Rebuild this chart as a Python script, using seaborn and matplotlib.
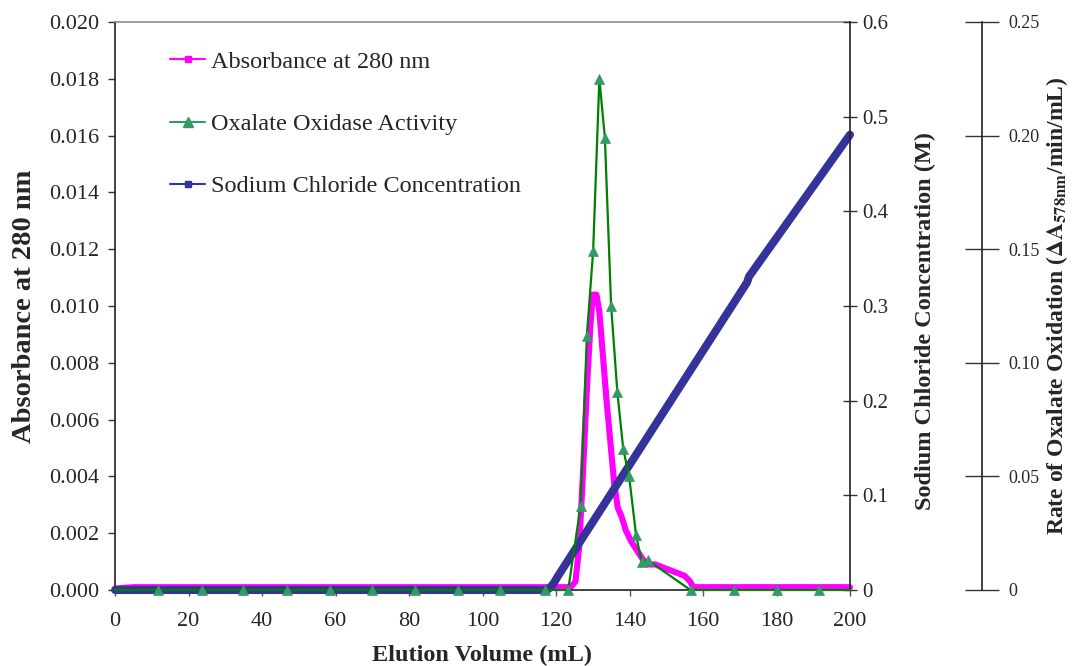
import matplotlib
matplotlib.use("Agg")
import matplotlib.pyplot as plt
from matplotlib.lines import Line2D
from matplotlib.ticker import FixedLocator, FuncFormatter
import seaborn as sns

# Absorbance at 280 nm across the elution
abs_volume = [0, 5, 123.0, 124.0, 125.3, 126.3, 127.3, 128.3, 129.3, 130.0, 131.0,
              131.8, 132.8, 133.8, 134.8, 135.8, 136.8, 137.8, 139.0, 140.5, 142.0,
              143.5, 145.0, 147.0, 149.0, 151.0, 153.0, 155.0, 156.5, 157.3, 200]
abs_280 = [0.00005, 0.0001, 0.0001, 0.0001, 0.0003, 0.0015, 0.0040, 0.0068, 0.0092,
           0.0104, 0.0104, 0.0098, 0.0082, 0.0066, 0.0052, 0.0038, 0.0029, 0.0026,
           0.0021, 0.0017, 0.0014, 0.0011, 0.0009, 0.0009, 0.0008, 0.0007, 0.0006,
           0.0005, 0.0003, 0.0001, 0.0001]

# Oxalate oxidase activity of the collected fractions
activity_volume = [0, 11.8, 23.6, 34.9, 46.7, 58.5, 69.8, 81.6, 93.4, 104.8, 117.0,
                   123.3, 126.7, 128.4, 130.1, 131.8, 133.3, 135.0, 136.7, 138.3,
                   139.9, 141.8, 143.3, 145.1, 156.6, 168.3, 180.0, 191.6, 200]
activity = [0, 0, 0, 0, 0, 0, 0, 0, 0, 0, 0,
            0, 0.037, 0.112, 0.149, 0.225, 0.199, 0.125, 0.087, 0.062,
            0.050, 0.024, 0.0125, 0.013, 0, 0, 0, 0, 0]

# Sodium chloride gradient
nacl_volume = [0, 117.6, 118.5, 119.5, 120.5, 172.0, 172.5, 200]
nacl_conc = [0, 0, 0.003, 0.008, 0.0145, 0.325, 0.331, 0.481]

x_ticks = [0, 20, 40, 60, 80, 100, 120, 140, 160, 180, 200]
abs_ticks = [0.000, 0.002, 0.004, 0.006, 0.008, 0.010, 0.012, 0.014, 0.016, 0.018, 0.020]
nacl_ticks = [0, 0.1, 0.2, 0.3, 0.4, 0.5, 0.6]
rate_ticks = [0, 0.05, 0.10, 0.15, 0.20, 0.25]

series_names = ["Absorbance at 280 nm", "Oxalate Oxidase Activity",
                "Sodium Chloride Concentration"]

MAGENTA = "#ff00ff"
GREEN_LINE = "#008000"
GREEN_MARK = "#339966"
NAVY = "#333399"

sns.set_style("white")
plt.rcParams["font.family"] = ["Liberation Serif", "DejaVu Serif"]
plt.rcParams["mathtext.fontset"] = "stix"

fig = plt.figure(figsize=(10.76, 6.66), dpi=100)
ax = fig.add_axes([115 / 1076, 76 / 666, 735 / 1076, 568 / 666])
ax2 = ax.twinx()
ax3 = ax.twinx()

sns.lineplot(x=abs_volume, y=abs_280, ax=ax, color=MAGENTA, linewidth=4.4,
             estimator=None, sort=False, legend=False, clip_on=False)
sns.lineplot(x=nacl_volume, y=nacl_conc, ax=ax2, color=NAVY, linewidth=5.8,
             estimator=None, sort=False, legend=False, clip_on=False)
sns.lineplot(x=activity_volume, y=activity, ax=ax3, color=GREEN_LINE, linewidth=1.6,
             marker="^", markersize=7, markerfacecolor=GREEN_MARK,
             markeredgecolor=GREEN_MARK, markeredgewidth=0.5,
             markevery=list(range(1, len(activity_volume) - 1)),
             estimator=None, sort=False, legend=False, clip_on=False)

# Primary axis: absorbance
ax.set_xlim(0, 200)
ax.set_ylim(0, 0.020)
ax.xaxis.set_major_locator(FixedLocator(x_ticks))
ax.yaxis.set_major_locator(FixedLocator(abs_ticks))
ax.yaxis.set_major_formatter(FuncFormatter(lambda v, p: f"{v:.3f}"))
ax.tick_params(axis="y", direction="out", length=5, width=1, color="#333333",
               labelsize=16, pad=6, left=True)
ax.tick_params(axis="x", direction="out", length=4, width=1, color="#555555",
               labelsize=16, pad=12, bottom=True)
for side in ("left", "bottom"):
    ax.spines[side].set_color("#222222")
    ax.spines[side].set_linewidth(1.2)
ax.spines["top"].set_color("#8c8c8c")
ax.spines["top"].set_linewidth(1.2)
ax.spines["right"].set_visible(False)

ax.set_xlabel("Elution Volume (mL)", fontsize=17.5, fontweight="bold")
ax.xaxis.set_label_coords(0.5, -0.1144)
ax.xaxis.label.set_va("center")
ax.set_ylabel("Absorbance at 280 nm", fontsize=20.5, fontweight="bold")
ax.yaxis.set_label_coords(-0.1238, 0.5)
ax.yaxis.label.set_va("center")

# Secondary axis: sodium chloride
ax2.set_ylim(0, 0.6)
ax2.yaxis.set_major_locator(FixedLocator(nacl_ticks))
ax2.yaxis.set_major_formatter(FuncFormatter(lambda v, p: "0" if v == 0 else f"{v:.1f}"))
ax2.tick_params(axis="y", direction="inout", length=10, width=1, color="#333333",
                labelsize=15, pad=4, right=True)
for side in ("left", "top", "bottom"):
    ax2.spines[side].set_visible(False)
ax2.spines["right"].set_color("#222222")
ax2.spines["right"].set_linewidth(1.2)
ax2.set_ylabel("Sodium Chloride Concentration (M)", fontsize=17.5, fontweight="bold")
ax2.yaxis.set_label_coords(1.102, 0.4736)
ax2.yaxis.label.set_va("center")
ax2.yaxis.label.set_rotation(90)

# Tertiary axis: enzyme activity
ax3.set_ylim(0, 0.25)
ax3.spines["right"].set_position(("axes", 1.1796))
for side in ("left", "top", "bottom"):
    ax3.spines[side].set_visible(False)
ax3.spines["right"].set_color("#222222")
ax3.spines["right"].set_linewidth(1.2)
ax3.yaxis.set_major_locator(FixedLocator(rate_ticks))
ax3.yaxis.set_major_formatter(FuncFormatter(lambda v, p: "0" if v == 0 else f"{v:.2f}"))
ax3.tick_params(axis="y", direction="inout", length=24, width=1, color="#333333",
                labelsize=13, pad=7, right=True)
ax3.set_ylabel(r"Rate of Oxalate Oxidation ($\mathbf{\Delta A_{578nm}}$/min/mL)",
               fontsize=17, fontweight="bold")
ax3.yaxis.set_label_coords(1.2815, 0.5)
ax3.yaxis.label.set_va("center")
ax3.yaxis.label.set_rotation(90)

# Legend
handles = [
    Line2D([], [], color=MAGENTA, lw=1.5, marker="s", markersize=5,
           markerfacecolor=MAGENTA, markeredgecolor=MAGENTA),
    Line2D([], [], color=GREEN_MARK, lw=1.5, marker="^", markersize=7,
           markerfacecolor=GREEN_MARK, markeredgecolor=GREEN_MARK),
    Line2D([], [], color=NAVY, lw=1.5, marker="s", markersize=5,
           markerfacecolor=NAVY, markeredgecolor=NAVY),
]
ax.legend(handles, series_names, loc="upper left", bbox_to_anchor=(0.0748, 0.949),
          frameon=False, fontsize=17.5, handlelength=1.45, handletextpad=0.25,
          labelspacing=1.65, borderaxespad=0, borderpad=0)

fig.savefig("out.png", dpi=100)
